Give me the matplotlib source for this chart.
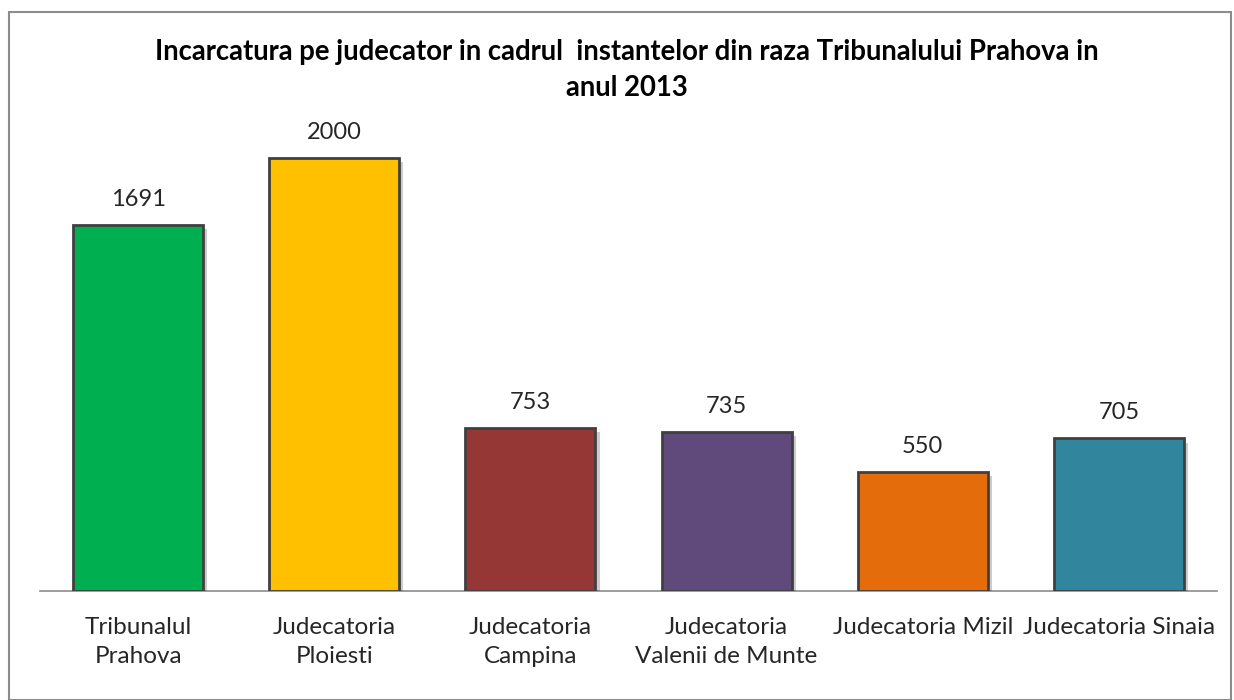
"""Incarcatura pe judecator - Tribunalul Prahova, 2013."""

import matplotlib

matplotlib.use("Agg")
import matplotlib.pyplot as plt
import matplotlib.patheffects as pe
from matplotlib.patches import Rectangle

categories = [
    "Tribunalul\nPrahova",
    "Judecatoria\nPloiesti",
    "Judecatoria\nCampina",
    "Judecatoria\nValenii de Munte",
    "Judecatoria Mizil",
    "Judecatoria Sinaia",
]
values = [1691, 2000, 753, 735, 550, 705]
colors = ["#00B050", "#FFC000", "#953735", "#604A7B", "#E46C0A", "#31859C"]

plt.rcParams["font.family"] = ["Lato", "DejaVu Sans"]

W, H = 1234, 700
fig = plt.figure(figsize=(W / 100, H / 100), dpi=100)

# chart border
fig.patches.append(Rectangle((9 / W, 0), (1231 - 9) / W, (H - 12) / H,
                             transform=fig.transFigure, fill=False,
                             edgecolor="#8c8c8c", linewidth=1.5))

ax = fig.add_axes([40 / W, (H - 591) / H, (1217 - 40) / W, (591 - 115) / H])
x = range(len(values))
bars = ax.bar(x, values, width=0.663, color=colors, edgecolor="#404040", linewidth=2, zorder=3)
for b in bars:
    b.set_path_effects([pe.SimplePatchShadow(offset=(3, -3), shadow_rgbFace="#000000", alpha=0.2),
                        pe.Normal()])

for xi, v in zip(x, values):
    ax.annotate(str(v), (xi, v), xytext=(0, 11), textcoords="offset points",
                ha="center", va="bottom", fontsize=17, color="#262626")

ax.set_xlim(-0.5, 5.5)
ax.set_ylim(0, 2200)
ax.set_yticks([])
ax.set_xticks(list(x))
ax.set_xticklabels(categories, fontsize=17.5, color="#262626", linespacing=1.42)
ax.tick_params(axis="x", length=0, pad=19)
for side in ["top", "right", "left"]:
    ax.spines[side].set_visible(False)
ax.spines["bottom"].set_color("#8c8c8c")
ax.spines["bottom"].set_linewidth(1.2)

fig.text(627 / W, 1 - 52 / H,
         "Incarcatura pe judecator in cadrul  instantelor din raza Tribunalului Prahova in",
         ha="center", va="center", fontsize=19.8, fontweight="bold", color="#000000")
fig.text(627 / W, 1 - 88 / H, "anul 2013",
         ha="center", va="center", fontsize=19.8, fontweight="bold", color="#000000")

fig.savefig("out.png", dpi=100)
